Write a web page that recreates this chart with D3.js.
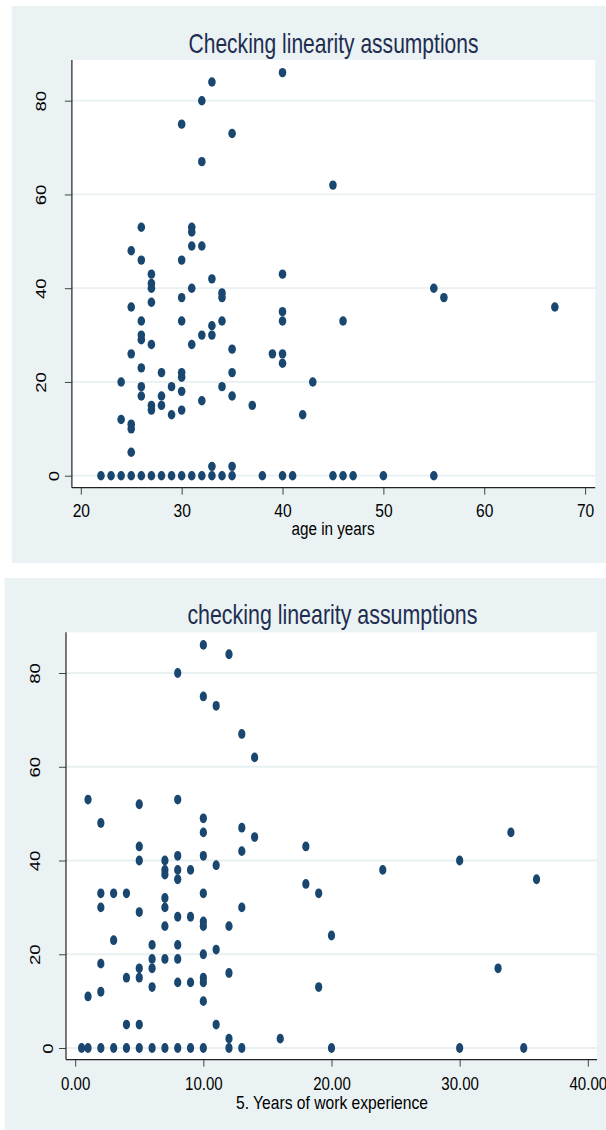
<!DOCTYPE html>
<meta charset="utf-8">
<style>
    body {
        margin: 0;
        background: #fff;
    }

    svg {
        display: block;
    }

    text {
        font-family: "Liberation Sans", Arial, sans-serif;
        fill: #000;
    }

    .title {
        fill: #1e2d50;
    }

    .tick line {
        stroke: #444;
    }
</style>
<script src="https://d3js.org/d3.v7.min.js"></script>

<body>
    <div id="chart"></div>
    <script>
        // top chart: age in years vs score
        var ageX = [22, 23, 24, 25, 26, 27, 28, 29, 30, 31, 32, 33, 34, 35, 38, 40, 41, 45, 46, 47, 50, 55,
            24, 24,
            25, 25, 25, 25, 25, 25,
            26, 26, 26, 26, 26, 26, 26, 26,
            27, 27, 27, 27, 27, 27, 27,
            28, 28, 28,
            29, 29,
            30, 30, 30, 30, 30, 30, 30, 30,
            31, 31, 31, 31, 31,
            32, 32, 32, 32, 32,
            33, 33, 33, 33, 33,
            34, 34, 34, 34,
            35, 35, 35, 35, 35,
            37, 39,
            40, 40, 40, 40, 40, 40,
            42, 43, 45, 46, 55, 56, 67
        ];
        var ageY = [0, 0, 0, 0, 0, 0, 0, 0, 0, 0, 0, 0, 0, 0, 0, 0, 0, 0, 0, 0, 0, 0,
            20, 12,
            48, 36, 26, 11, 10, 5,
            53, 46, 33, 30, 29, 23, 19, 17,
            43, 41, 40, 37, 28, 15, 14,
            22, 17, 15,
            19, 13,
            75, 46, 38, 33, 22, 21, 18, 14,
            53, 52, 49, 40, 28,
            80, 67, 49, 30, 16,
            84, 42, 32, 30, 2,
            39, 38, 33, 19,
            73, 27, 22, 17, 2,
            15, 26,
            86, 43, 35, 33, 26, 24,
            13, 20, 62, 33, 40, 38, 36
        ];

        // bottom chart: years of work experience vs score
        var expX = [0.5, 1, 2, 3, 4, 5, 6, 7, 8, 9, 10, 12, 13, 20, 30, 35,
            1, 1,
            2, 2, 2, 2, 2,
            3, 3,
            4, 4, 4,
            5, 5, 5, 5, 5, 5, 5,
            6, 6, 6, 6,
            7, 7, 7, 7, 7, 7, 7,
            8, 8, 8, 8, 8, 8, 8, 8, 8,
            9, 9, 9,
            10, 10, 10, 10, 10, 10, 10, 10, 10, 10, 10, 10,
            11, 11, 11, 11,
            12, 12, 12, 12,
            13, 13, 13, 13,
            14, 14,
            16, 18, 18, 19, 19, 20, 24, 30, 33, 34, 36
        ];
        var expY = [0, 0, 0, 0, 0, 0, 0, 0, 0, 0, 0, 0, 0, 0, 0, 0,
            53, 11,
            48, 33, 30, 18, 12,
            33, 23,
            33, 15, 5,
            52, 43, 40, 29, 17, 15, 5,
            22, 19, 17, 13,
            40, 38, 37, 32, 30, 26, 19,
            80, 53, 41, 38, 36, 28, 22, 19, 14,
            38, 28, 14,
            86, 75, 49, 46, 41, 33, 27, 26, 20, 15, 14, 10,
            73, 39, 21, 5,
            84, 26, 16, 2,
            67, 47, 42, 30,
            62, 45,
            2, 43, 35, 33, 13, 24, 38, 40, 17, 46, 36
        ];

        var ageTicks = [20, 30, 40, 50, 60, 70];
        var expTicks = [0, 10, 20, 30, 40];
        var yTicks = [0, 20, 40, 60, 80];

        var svg = d3.select("#chart")
            .append("svg")
            .attr("width", 606)
            .attr("height", 1130);

        var panels = [{
            title: "Checking linearity assumptions",
            xlab: "age in years",
            xs: ageX,
            ys: ageY,
            xTicks: ageTicks,
            xDomain: [20, 70],
            fmt: d3.format("d"),
            box: { x: 11.6, y: 6, w: 595, h: 557 },
            plot: { left: 71.9, right: 595.2, top: 60, bottom: 487.7 },
            xRange: [80.8, 585.1],
            yRange: [475.7, 100.7],
            titleY: 53, titleX: 333.5, titleW: 290,
            xlabY: 535, xlabX: 333, xlabW: 83, xlabSize: 18,
            tickSize: 19, tickK: 0.82, tickY: 29.6,
            rx: 3.8, ry: 4.7
        }, {
            title: "checking linearity assumptions",
            xlab: "5. Years of work experience",
            xs: expX,
            ys: expY,
            xTicks: expTicks,
            xDomain: [0, 40],
            fmt: d3.format(".2f"),
            box: { x: 4.6, y: 578, w: 602, h: 552 },
            plot: { left: 66, right: 597, top: 632.3, bottom: 1059.6 },
            xRange: [75.2, 587.8],
            yRange: [1048, 673],
            titleY: 624, titleX: 332.4, titleW: 290,
            xlabY: 1108.5, xlabX: 332, xlabW: 192, xlabSize: 18.5,
            tickSize: 17.5, tickK: 0.86, tickY: 30,
            rx: 3.6, ry: 4.9
        }];

        function squeeze(sel, k) {
            sel.each(function() {
                var w = this.getComputedTextLength();
                d3.select(this)
                    .attr("textLength", w * k)
                    .attr("lengthAdjust", "spacingAndGlyphs");
            });
        }

        panels.forEach(function(p) {
            var g = svg.append("g");

            g.append("rect")
                .attr("x", p.box.x)
                .attr("y", p.box.y)
                .attr("width", p.box.w)
                .attr("height", p.box.h)
                .attr("fill", "#eaf2f3");

            g.append("rect")
                .attr("x", p.plot.left)
                .attr("y", p.plot.top)
                .attr("width", p.plot.right - p.plot.left)
                .attr("height", p.plot.bottom - p.plot.top)
                .attr("fill", "#fff");

            var x = d3.scaleLinear().domain(p.xDomain).range(p.xRange),
                y = d3.scaleLinear().domain([0, 80]).range(p.yRange);

            // horizontal grid
            g.append("g")
                .selectAll("line")
                .data(yTicks)
                .join("line")
                .attr("x1", p.plot.left)
                .attr("x2", p.plot.right)
                .attr("y1", d => y(d))
                .attr("y2", d => y(d))
                .attr("stroke", "#e8f0f2")
                .attr("stroke-width", 1.8);

            // points
            g.append("g")
                .selectAll("ellipse")
                .data(d3.zip(p.xs, p.ys))
                .join("ellipse")
                .attr("cx", d => x(d[0]))
                .attr("cy", d => y(d[1]))
                .attr("rx", p.rx)
                .attr("ry", p.ry)
                .attr("fill", "#1a476f");

            // x axis
            var xa = g.append("g")
                .attr("transform", "translate(0," + p.plot.bottom + ")")
                .call(d3.axisBottom(x).tickValues(p.xTicks).tickFormat(p.fmt).tickSize(7).tickSizeOuter(0));
            xa.select(".domain").remove();
            xa.selectAll("text")
                .attr("y", p.tickY)
                .attr("dy", null)
                .style("font-size", p.tickSize + "px")
                .call(squeeze, p.tickK);

            // y axis, labels rotated
            var ya = g.append("g")
                .attr("transform", "translate(" + p.plot.left + ",0)")
                .call(d3.axisLeft(y).tickValues(yTicks).tickSize(7).tickSizeOuter(0));
            ya.select(".domain").remove();
            ya.selectAll("text")
                .attr("x", null)
                .attr("dy", null)
                .attr("text-anchor", "middle")
                .attr("transform", d => "translate(" + (String(d).length > 1 ? -26 : -12.8) + ",0) rotate(-90)")
                .style("font-size", "14.5px")
                .call(squeeze, 1.28);

            // axis lines
            g.append("line")
                .attr("x1", p.plot.left).attr("x2", p.plot.left)
                .attr("y1", p.plot.top).attr("y2", p.plot.bottom)
                .attr("stroke", "#222").attr("stroke-width", 1.2);
            g.append("line")
                .attr("x1", p.plot.left).attr("x2", p.plot.right)
                .attr("y1", p.plot.bottom).attr("y2", p.plot.bottom)
                .attr("stroke", "#222").attr("stroke-width", 1.2);

            g.append("text")
                .attr("class", "title")
                .attr("x", p.titleX)
                .attr("y", p.titleY)
                .attr("text-anchor", "middle")
                .attr("textLength", p.titleW)
                .attr("lengthAdjust", "spacingAndGlyphs")
                .style("font-size", "28px")
                .text(p.title);

            g.append("text")
                .attr("x", p.xlabX)
                .attr("y", p.xlabY)
                .attr("text-anchor", "middle")
                .attr("textLength", p.xlabW)
                .attr("lengthAdjust", "spacingAndGlyphs")
                .style("font-size", p.xlabSize + "px")
                .text(p.xlab);
        });
    </script>
</body>
